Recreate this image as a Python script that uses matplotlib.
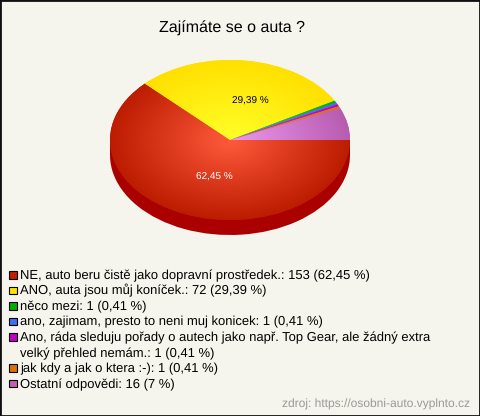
import numpy as np
import matplotlib
matplotlib.use('Agg')
import matplotlib.pyplot as plt
from matplotlib.patches import Rectangle

WIDTH, HEIGHT = 480, 416
BACKGROUND = '#f5f5ed'

title = 'Zajímáte se o auta ?'
source = 'zdroj: https://osobni-auto.vyplnto.cz'

values = [153, 72, 1, 1, 1, 1, 16]
legend_labels = [
    'NE, auto beru čistě jako dopravní prostředek.: 153 (62,45 %)',
    'ANO, auta jsou můj koníček.: 72 (29,39 %)',
    'něco mezi: 1 (0,41 %)',
    'ano, zajimam, presto to neni muj konicek: 1 (0,41 %)',
    'Ano, ráda sleduju pořady o autech jako např. Top Gear, ale žádný extra\nvelký přehled nemám.: 1 (0,41 %)',
    'jak kdy a jak o ktera :-): 1 (0,41 %)',
    'Ostatní odpovědi: 16 (7 %)',
]
legend_colors = ['#c02000', '#ffe000', '#00b000', '#4070f0', '#c000c0', '#e07000', '#c060b0']
inner_colors = ['#ff5a3c', '#ffff28', '#30e030', '#6090ff', '#e030e0', '#ff9020', '#ec98ee']
outer_colors = ['#bc1c00', '#ffe000', '#00b000', '#4070f0', '#c000c0', '#e07000', '#b85cb0']
side_colors = ['#aa0000', '#b09800', '#007000', '#2848a0', '#800080', '#984800', '#804078']


def px_x(x):
    return x / WIDTH


def px_y(y):
    return 1 - y / HEIGHT


def radial_image(inner, outer):
    """Radial gradient from the pie centre to its rim"""
    grid = np.linspace(-1, 1, 300)
    xx, yy = np.meshgrid(grid, grid)
    r = np.clip(np.sqrt(xx ** 2 + yy ** 2), 0, 1)[..., None]
    start = np.array(matplotlib.colors.to_rgb(inner))
    end = np.array(matplotlib.colors.to_rgb(outer))
    return start + (end - start) * r


plt.rcParams['text.hinting'] = 'none'
plt.rcParams['font.family'] = ['Liberation Sans', 'DejaVu Sans']
fig = plt.figure(figsize=(WIDTH / 100, HEIGHT / 100), dpi=100, facecolor=BACKGROUND)

# pie is 240x160 px centred on (230, 140), side wall 15 px deep
depth = 15 / 80
ax = fig.add_axes([px_x(110), px_y(235), 240 / WIDTH, 175 / HEIGHT])
ax.pie(values, colors=side_colors, startangle=0, counterclock=False, radius=1,
       center=(0, -depth))
ax.fill_between([-1, 1], -depth, 0, color=side_colors[0], lw=0)
wedges, _ = ax.pie(values, colors=outer_colors, startangle=0, counterclock=False, radius=1)
for wedge, inner, outer in zip(wedges, inner_colors, outer_colors):
    image = ax.imshow(radial_image(inner, outer), extent=(-1, 1, -1, 1), origin='lower',
                      aspect='auto', zorder=wedge.get_zorder() + 0.1)
    image.set_clip_path(wedge)
ax.set_aspect('auto')
ax.set_xlim(-1, 1)
ax.set_ylim(-1 - depth, 1)
ax.axis('off')

fig.text(px_x(232), px_y(28.5), title, ha='center', va='center', fontsize=11.52, color='#000000')
fig.text(px_x(214), px_y(177), '62,45 %', ha='center', va='center', fontsize=7.2, color='#ffffff')
fig.text(px_x(250), px_y(101), '29,39 %', ha='center', va='center', fontsize=7.2, color='#000000')

# legend rows, baselines in pixels from the top
row_y = 279
for label, color in zip(legend_labels, legend_colors):
    fig.add_artist(Rectangle((px_x(9), px_y(row_y - 0.5)), 7.5 / WIDTH, 7.5 / HEIGHT,
                             transform=fig.transFigure, facecolor=color,
                             edgecolor='#000000', lw=0.8))
    for line in label.split('\n'):
        fig.text(px_x(20), px_y(row_y), line, ha='left', va='baseline', fontsize=9.36, color='#000000')
        row_y += 15.57

fig.text(px_x(470), px_y(408), source, ha='right', va='baseline', fontsize=8.64, color='#999999')

# frame
fig.add_artist(Rectangle((0, 0), 1, 1, transform=fig.transFigure, fill=False,
                         edgecolor='#101010', lw=2))

fig.savefig('out.png', dpi=100, facecolor=BACKGROUND)
